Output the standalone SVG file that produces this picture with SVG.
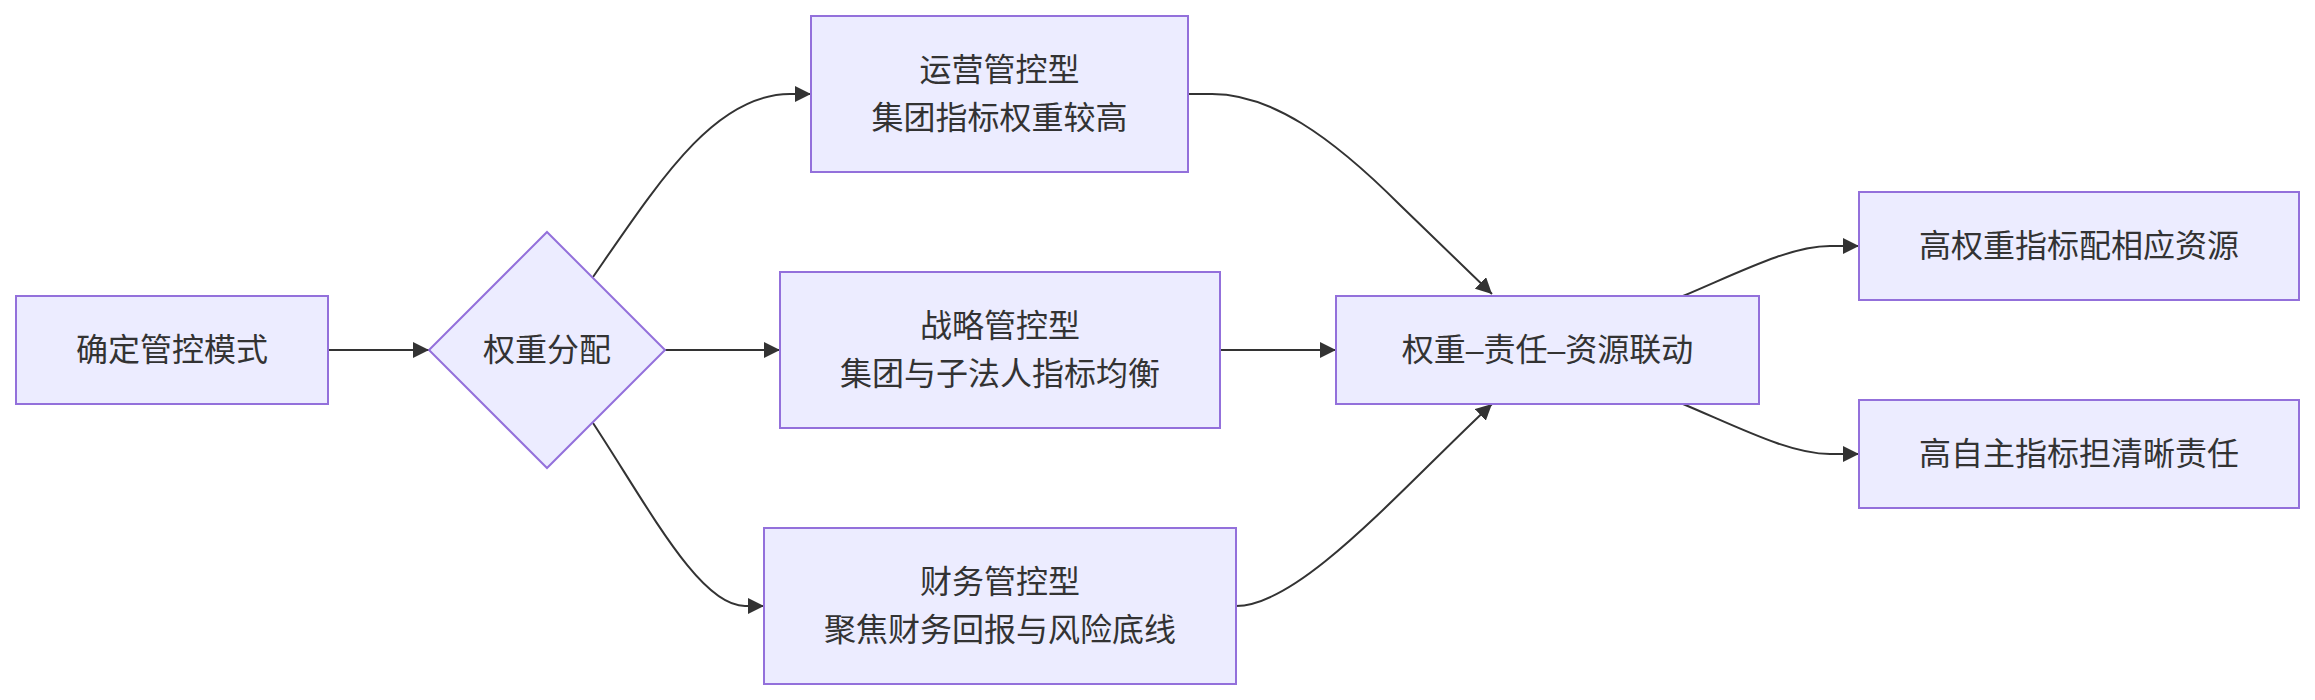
<svg xmlns="http://www.w3.org/2000/svg" width="2315" height="700" viewBox="0 0 2315 700">
<style>
.node rect, .node polygon { fill: #ECECFF; stroke: #9370DB; stroke-width: 2; }
.node text { font-family: "Liberation Sans", "Noto Sans CJK SC", sans-serif; font-size: 32px; fill: #333333; text-anchor: middle; dominant-baseline: central; }
.edges path { fill: none; stroke: #333333; stroke-width: 2; marker-end: url(#arrow); }
</style>
<defs>
<marker id="arrow" viewBox="0 0 10 10" refX="10" refY="5" markerWidth="16" markerHeight="16" markerUnits="userSpaceOnUse" orient="auto">
<path d="M0,0 L10,5 L0,10 z" fill="#333333"/>
</marker>
</defs>
<rect width="2315" height="700" fill="#ffffff"/>
<g class="edges">
<path d="M328,350 L429,350"/>
<path d="M593,277 C660,180 715,94 790,94 L811,94"/>
<path d="M665,350 L780,350"/>
<path d="M593,423 C650,510 700,606 745,606 L764,606"/>
<path d="M1188,94 L1212,94 C1270,94 1330,135 1400,205 L1492,294"/>
<path d="M1220,350 L1336,350"/>
<path d="M1236,606 C1300,606 1400,490 1492,404"/>
<path d="M1683,296 C1740,272 1790,246 1830,246 L1859,246"/>
<path d="M1683,404 C1740,428 1790,454 1830,454 L1859,454"/>
</g>
<g id="node-A" class="node">
<rect x="16" y="296" width="312" height="108"/>
<text x="172" y="350">确定管控模式</text>
</g>
<g id="node-B" class="node">
<polygon points="547,232 665,350 547,468 429,350"/>
<text x="547" y="350">权重分配</text>
</g>
<g id="node-C1" class="node">
<rect x="811" y="16" width="377" height="156"/>
<text x="999.5" y="70">运营管控型</text>
<text x="999.5" y="118">集团指标权重较高</text>
</g>
<g id="node-C2" class="node">
<rect x="780" y="272" width="440" height="156"/>
<text x="1000" y="326">战略管控型</text>
<text x="1000" y="374">集团与子法人指标均衡</text>
</g>
<g id="node-C3" class="node">
<rect x="764" y="528" width="472" height="156"/>
<text x="1000" y="582">财务管控型</text>
<text x="1000" y="630">聚焦财务回报与风险底线</text>
</g>
<g id="node-D" class="node">
<rect x="1336" y="296" width="423" height="108"/>
<text x="1547.5" y="350">权重–责任–资源联动</text>
</g>
<g id="node-E1" class="node">
<rect x="1859" y="192" width="440" height="108"/>
<text x="2079" y="246">高权重指标配相应资源</text>
</g>
<g id="node-E2" class="node">
<rect x="1859" y="400" width="440" height="108"/>
<text x="2079" y="454">高自主指标担清晰责任</text>
</g>
</svg>
